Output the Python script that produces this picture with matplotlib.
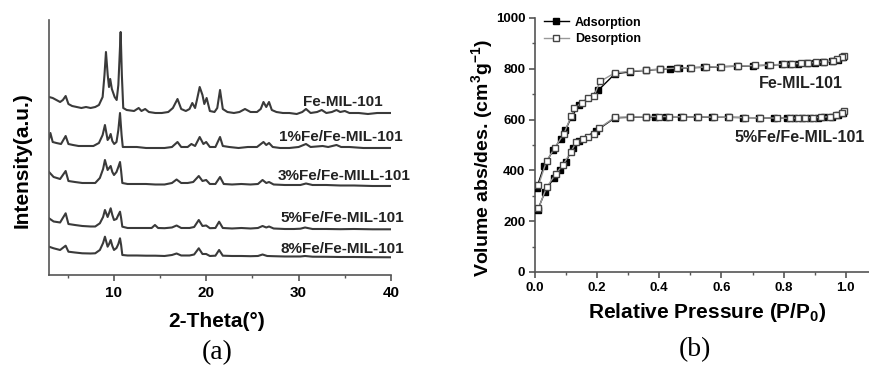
import matplotlib
matplotlib.use('Agg')
import matplotlib.pyplot as plt
from matplotlib.ticker import MultipleLocator

plt.rcParams['font.family'] = ['Liberation Sans', 'DejaVu Sans']
plt.rcParams['font.weight'] = 'bold'
plt.rcParams['mathtext.fontset'] = 'custom'
plt.rcParams['mathtext.bf'] = 'Liberation Sans:bold'
plt.rcParams['mathtext.rm'] = 'Liberation Sans:bold'
plt.rcParams['mathtext.default'] = 'bf'

# ---- (a) XRD patterns, (2-theta, intensity offset a.u.)
fe_mil_101 = [(3.0, 178), (3.4, 177), (3.8, 175), (4.2, 173), (4.5, 175), (4.8, 179), (5.1, 171),
              (5.5, 169), (6.0, 168), (6.5, 167), (7.0, 168), (7.5, 167), (8.0, 168), (8.4, 170),
              (8.8, 178), (9.0, 200), (9.16, 223), (9.35, 200), (9.49, 188), (9.62, 196), (9.8, 186),
              (10.1, 178), (10.32, 175), (10.5, 190), (10.62, 215), (10.75, 243), (10.88, 200),
              (11.03, 167), (11.4, 165), (12.2, 164), (12.7, 167), (13.0, 164), (13.4, 166),
              (13.8, 163), (14.5, 162), (15.2, 162), (15.9, 163), (16.4, 167), (16.9, 176),
              (17.3, 166), (17.8, 164), (18.2, 166), (18.5, 172), (18.8, 167), (19.0, 175),
              (19.3, 188), (19.6, 180), (19.8, 171), (20.05, 177), (20.4, 164), (20.9, 163),
              (21.2, 167), (21.5, 185), (21.8, 166), (22.3, 163), (23.0, 162), (23.6, 163),
              (24.2, 166), (24.8, 163), (25.5, 163), (25.9, 166), (26.2, 173), (26.5, 168),
              (26.8, 173), (27.1, 165), (27.6, 163), (28.3, 162), (29.0, 162), (29.8, 161),
              (30.4, 163), (30.8, 166), (31.3, 162), (32.0, 163), (32.5, 165), (33.0, 162),
              (33.6, 163), (34.1, 165), (34.5, 163), (35.0, 164), (35.5, 162), (36.5, 162),
              (37.5, 161), (38.5, 162), (39.3, 162), (40.0, 162)]
fe1 = [(3.0, 136), (3.15, 142), (3.4, 133), (3.8, 132), (4.3, 131), (4.8, 139), (5.1, 131),
       (5.6, 130), (6.2, 129), (7.0, 129), (7.8, 129), (8.4, 132), (8.8, 140), (9.05, 150),
       (9.34, 135), (9.5, 137), (9.67, 141), (9.85, 134), (10.05, 131), (10.3, 133), (10.5, 145),
       (10.68, 162), (10.85, 140), (10.98, 128), (11.5, 128), (12.5, 128), (13.5, 127),
       (14.5, 127), (15.5, 127), (16.3, 128), (16.9, 133), (17.3, 128), (18.0, 128), (18.4, 131),
       (18.8, 129), (19.3, 138), (19.7, 131), (20.0, 133), (20.4, 128), (21.0, 128), (21.5, 138),
       (21.8, 129), (22.5, 128), (23.5, 127), (24.5, 128), (25.5, 128), (26.2, 133), (26.5, 130),
       (26.8, 132), (27.2, 128), (28.0, 127), (29.0, 127), (30.0, 128), (30.8, 131), (31.3, 128),
       (32.6, 129), (33.2, 128), (34.1, 130), (34.6, 128), (35.5, 128), (37.0, 127), (38.5, 127),
       (40.0, 127)]
fe3 = [(3.0, 103), (3.5, 98), (4.2, 96), (4.8, 104), (5.1, 94), (5.8, 93), (6.6, 92), (7.5, 92),
       (8.0, 92), (8.5, 97), (8.85, 106), (9.05, 115), (9.34, 105), (9.5, 107), (9.67, 109),
       (9.85, 103), (10.03, 100), (10.3, 103), (10.5, 108), (10.68, 113), (10.8, 104), (10.93, 92),
       (11.5, 91), (12.5, 91), (13.5, 91), (14.5, 90.5), (15.5, 90.5), (16.3, 92), (16.8, 95.5),
       (17.3, 92), (18.0, 92), (18.6, 93), (19.2, 99), (19.6, 94), (20.0, 95), (20.4, 91),
       (21.0, 91), (21.5, 98), (21.9, 91), (22.8, 90.5), (23.8, 91), (24.8, 90.5), (25.6, 91),
       (26.1, 95), (26.5, 92), (26.8, 93), (27.3, 90.5), (28.5, 90), (29.5, 90), (30.2, 90),
       (30.8, 91.5), (31.5, 90), (33.0, 90), (34.5, 89.5), (36.0, 89.5), (38.0, 89), (40.0, 89)]
fe5 = [(3.0, 56.7), (3.5, 53.5), (4.2, 52.5), (4.8, 61.7), (5.1, 51), (5.8, 50), (6.6, 49),
       (7.5, 48.5), (8.0, 48.5), (8.5, 51.7), (8.85, 58), (9.05, 65), (9.34, 58), (9.5, 62),
       (9.67, 66.7), (9.85, 60), (10.03, 55), (10.3, 56), (10.5, 60), (10.68, 63.3), (10.8, 57),
       (10.93, 48.3), (11.5, 47), (12.5, 47), (13.5, 47), (14.1, 47), (14.46, 50), (14.8, 47),
       (15.5, 46.8), (16.3, 47.5), (16.8, 49.5), (17.3, 47), (18.2, 47), (18.7, 48), (19.2, 55),
       (19.6, 49), (20.0, 49.5), (20.4, 46.8), (21.0, 47), (21.4, 53.3), (21.8, 47), (22.8, 46.5),
       (23.8, 47), (24.8, 46.5), (25.6, 47), (26.1, 49), (26.5, 47.5), (26.8, 48.5), (27.3, 46.5),
       (28.5, 46), (29.5, 46), (30.2, 46.3), (30.7, 47.5), (31.5, 46), (33.0, 46), (34.5, 45.8),
       (36.0, 46), (38.0, 45.7), (40.0, 45.7)]
fe8 = [(3.0, 28.3), (3.5, 26.7), (4.2, 25), (4.8, 29.3), (5.1, 23.3), (5.8, 22.5), (6.6, 21.7),
       (7.5, 21.5), (8.0, 21.7), (8.5, 25), (8.85, 32), (9.05, 38.3), (9.34, 28.3), (9.5, 31),
       (9.67, 35), (9.85, 29), (10.03, 25), (10.3, 27), (10.5, 31), (10.68, 36.7), (10.8, 30),
       (10.93, 20), (11.5, 19.5), (12.5, 19.5), (13.5, 19.3), (14.5, 19.3), (15.5, 19),
       (16.3, 20), (16.8, 21.5), (17.3, 19.5), (18.2, 19.5), (18.7, 20.5), (19.2, 26.7),
       (19.6, 21), (20.0, 21), (20.4, 19), (21.0, 19.3), (21.4, 25), (21.8, 19.3), (22.8, 19),
       (23.8, 19), (24.8, 18.8), (25.6, 19), (26.1, 20.5), (26.6, 19), (27.3, 18.8), (28.5, 18.5),
       (29.5, 18.5), (30.2, 18.5), (30.7, 19), (31.5, 18.3), (33.0, 18.2), (34.5, 18),
       (36.0, 18), (38.0, 17.8), (40.0, 17.7)]

xrd_traces = [fe_mil_101, fe1, fe3, fe5, fe8]
xrd_names = ['Fe-MIL-101', '1%Fe/Fe-MIL-101', '3%Fe/Fe-MILL-101', '5%Fe/Fe-MIL-101', '8%Fe/Fe-MIL-101']
xrd_label_x = [39.1, 41.3, 42.1, 41.4, 41.4]
xrd_label_y = [173, 138, 99, 57, 26]

# ---- (b) N2 isotherms
fe_ads_p = [0.005, 0.029, 0.059, 0.083, 0.098, 0.118, 0.143, 0.204, 0.257, 0.306, 0.357, 0.402,
            0.435, 0.465, 0.499, 0.545, 0.595, 0.649, 0.703, 0.751, 0.794, 0.821, 0.848, 0.874,
            0.901, 0.928, 0.955, 0.975, 0.99]
fe_ads_v = [330, 417, 481, 524, 560, 612, 659, 716, 780, 788, 794, 798, 801, 803, 804, 806, 808,
            810, 812, 814, 817, 819, 820, 822, 824, 826, 829, 835, 845]
fe_des_p = [0.996, 0.987, 0.972, 0.958, 0.93, 0.905, 0.88, 0.855, 0.828, 0.80, 0.755, 0.708,
            0.654, 0.60, 0.55, 0.503, 0.458, 0.402, 0.357, 0.306, 0.257, 0.209, 0.19, 0.172,
            0.15, 0.127, 0.116, 0.093, 0.064, 0.037, 0.011]
fe_des_v = [852, 847, 838, 831, 827, 825, 823, 821, 820, 818, 815, 813, 811, 809, 807, 805, 803,
            799, 795, 790, 784, 750, 694, 685, 667, 644, 613, 545, 490, 437, 341]

fe5_ads_p = [0.008, 0.032, 0.061, 0.081, 0.099, 0.121, 0.14, 0.197, 0.257, 0.306, 0.357, 0.386,
             0.42, 0.47, 0.52, 0.57, 0.62, 0.67, 0.72, 0.77, 0.81, 0.835, 0.86, 0.885, 0.91,
             0.93, 0.955, 0.975, 0.99]
fe5_ads_v = [243, 315, 372, 403, 433, 488, 514, 556, 607, 609, 611, 611, 611, 611, 610, 609, 609,
             608, 607, 606, 605, 605, 606, 607, 608, 609, 612, 617, 626]
fe5_des_p = [0.996, 0.987, 0.97, 0.95, 0.92, 0.895, 0.87, 0.845, 0.82, 0.78, 0.725, 0.675, 0.625,
             0.575, 0.525, 0.475, 0.43, 0.40, 0.357, 0.306, 0.257, 0.207, 0.19, 0.172, 0.155,
             0.132, 0.116, 0.089, 0.066, 0.037, 0.011]
fe5_des_v = [632, 626, 618, 612, 609, 608, 607, 606, 605, 606, 607, 608, 609, 610, 610, 611, 612,
             612, 612, 610, 609, 567, 544, 533, 524, 510, 474, 420, 385, 333, 250]

fig = plt.figure(figsize=(8.69, 3.65), dpi=100)

spine_col = '#555555'

# left panel
ax1 = fig.add_axes([0.0564, 0.2466, 0.3936, 0.6986])
for tr, name, lx, ly in zip(xrd_traces, xrd_names, xrd_label_x, xrd_label_y):
    ax1.plot([p[0] for p in tr], [p[1] for p in tr], color='#3a3a3a', lw=1.5, solid_joinstyle='round')
    ax1.text(lx, ly, name, ha='right', va='center', fontsize=11, fontweight='bold', color='#222222')
ax1.set_xlim(3, 40)
ax1.set_ylim(0, 255)
ax1.set_yticks([])
ax1.xaxis.set_major_locator(MultipleLocator(10))
ax1.xaxis.set_minor_locator(MultipleLocator(5))
for s in ['top', 'right']:
    ax1.spines[s].set_visible(False)
for s in ['left', 'bottom']:
    ax1.spines[s].set_color(spine_col)
    ax1.spines[s].set_linewidth(1.2)
ax1.tick_params(axis='x', which='major', length=4, width=1.2, color=spine_col, labelsize=11, pad=4)
ax1.tick_params(axis='x', which='minor', length=2.5, width=1.0, color=spine_col)
for lab in ax1.get_xticklabels():
    lab.set_fontweight('bold')
ax1.set_xlabel('2-Theta(°)', fontsize=15, fontweight='bold')
ax1.xaxis.set_label_coords(0.49, -0.184)
ax1.xaxis.label.set_va('center')
ax1.set_ylabel('Intensity(a.u.)', fontsize=15, fontweight='bold')
ax1.yaxis.set_label_coords(-0.079, 0.45)
ax1.yaxis.label.set_va('center')

# right panel
ax2 = fig.add_axes([0.6157, 0.2548, 0.3843, 0.6959])
ax2.plot(fe_ads_p, fe_ads_v, color='black', lw=1.0, marker='s', ms=4.5,
         mfc='black', mec='black', label='Adsorption', zorder=3)
ax2.plot(fe_des_p, fe_des_v, color='#999999', lw=1.0, marker='s', ms=4.5,
         mfc='white', mec='#444444', label='Desorption', zorder=4)
ax2.plot(fe5_ads_p, fe5_ads_v, color='black', lw=1.0, marker='s', ms=4.5,
         mfc='black', mec='black', zorder=3)
ax2.plot(fe5_des_p, fe5_des_v, color='#999999', lw=1.0, marker='s', ms=4.5,
         mfc='white', mec='#444444', zorder=4)
ax2.text(0.991, 744, 'Fe-MIL-101', ha='right', va='center', fontsize=11.5, fontweight='bold', color='#222222')
ax2.text(1.062, 528, '5%Fe/Fe-MIL-101', ha='right', va='center', fontsize=11.5, fontweight='bold', color='#222222')
ax2.set_xlim(0, 1.075)
ax2.set_ylim(0, 1000)
ax2.xaxis.set_minor_locator(MultipleLocator(0.1))
ax2.yaxis.set_major_locator(MultipleLocator(200))
ax2.yaxis.set_minor_locator(MultipleLocator(100))
ax2.set_xticks([0.0, 0.2, 0.4, 0.6, 0.8, 1.0])
ax2.set_xticklabels(['0.0', '0.2', '0.4', '0.6', '0.8', '1.0'])
for s in ['top', 'right']:
    ax2.spines[s].set_visible(False)
for s in ['left', 'bottom']:
    ax2.spines[s].set_color(spine_col)
    ax2.spines[s].set_linewidth(1.2)
ax2.tick_params(which='major', length=4, width=1.2, color=spine_col, labelsize=9.5, pad=3)
ax2.tick_params(which='minor', length=2.5, width=1.0, color=spine_col)
for lab in ax2.get_xticklabels() + ax2.get_yticklabels():
    lab.set_fontweight('bold')
ax2.set_xlabel('Relative Pressure (P/P$_0$)', fontsize=15, fontweight='bold')
ax2.xaxis.set_label_coords(0.515, -0.161)
ax2.xaxis.label.set_va('center')
ax2.set_ylabel('Volume abs/des. (cm$^3$g$^{-1}$)', fontsize=14, fontweight='bold')
ax2.yaxis.set_label_coords(-0.159, 0.45)
ax2.yaxis.label.set_va('center')
leg = ax2.legend(loc='upper left', bbox_to_anchor=(0.0, 1.04), frameon=False, fontsize=9,
                 handlelength=2.0, handletextpad=0.5, labelspacing=0.35, borderaxespad=0.3)
for t in leg.get_texts():
    t.set_fontweight('bold')

fig.text(217 / 869, 1 - 353 / 365, '(a)', family='Liberation Serif', fontsize=20,
         fontweight='normal', ha='center', va='center')
fig.text(695 / 869, 1 - 350 / 365, '(b)', family='Liberation Serif', fontsize=20,
         fontweight='normal', ha='center', va='center')

fig.savefig('out.png', dpi=100)
